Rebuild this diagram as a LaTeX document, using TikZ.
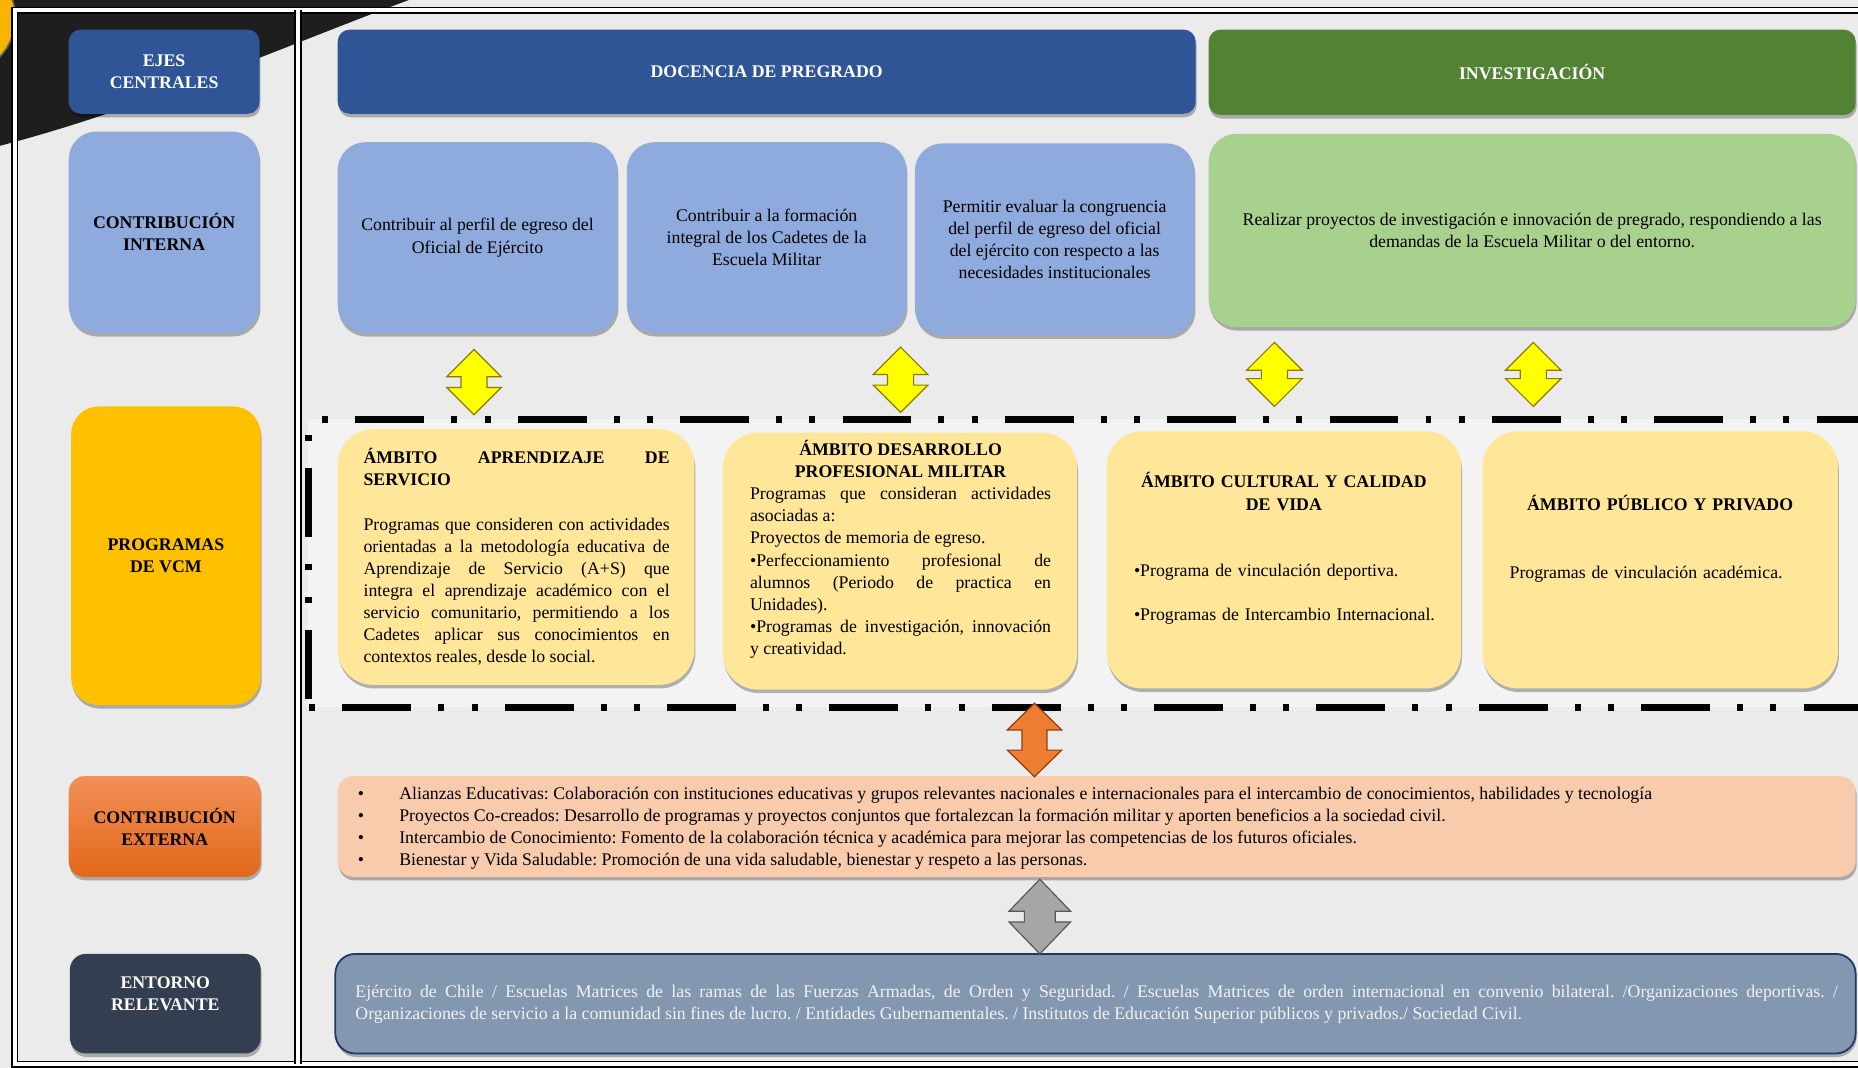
\documentclass[tikz,border=0pt]{standalone}
\usepackage{fontspec}
\setmainfont{Liberation Serif}
\usetikzlibrary{shadows}
\setlength{\parindent}{0pt}
\frenchspacing
\definecolor{cBg}{HTML}{EBEBEB}
\definecolor{cIn}{HTML}{F3F3F3}
\definecolor{cBlk}{HTML}{1E1E1E}
\definecolor{cOrg}{HTML}{F7B500}
\definecolor{cBlue}{HTML}{2F5597}
\definecolor{cLBlue}{HTML}{8FAADC}
\definecolor{cGreen}{HTML}{548235}
\definecolor{cLGreen}{HTML}{A9D18E}
\definecolor{cGold}{HTML}{FFC000}
\definecolor{cLYel}{HTML}{FFE699}
\definecolor{cOrT}{HTML}{F29056}
\definecolor{cOrB}{HTML}{E2681A}
\definecolor{cPeach}{HTML}{F8CBAD}
\definecolor{cSlate}{HTML}{333F50}
\definecolor{cEnv}{HTML}{8497B0}
\definecolor{cEnvB}{HTML}{1F3864}
\definecolor{cEnvT}{HTML}{F2F2F2}
\definecolor{cYArr}{HTML}{FFFF00}
\definecolor{cYArrB}{HTML}{8C7A00}
\definecolor{cOArr}{HTML}{ED7D31}
\definecolor{cOArrB}{HTML}{8A3F10}
\definecolor{cGArr}{HTML}{A6A6A6}
\definecolor{cGArrB}{HTML}{595959}
\tikzset{
  nb/.style={font=\fontsize{9}{11.2}\selectfont, inner sep=0pt, outer sep=0pt},
  rb/.style={rectangle, rounded corners=#1, drop shadow={shadow xshift=0.5pt, shadow yshift=-1.8pt, opacity=0.28, fill=black}},
  wh/.style 2 args={minimum width=#1, minimum height=#2},
  bld/.style={font=\fontsize{9}{11.2}\selectfont\bfseries, align=center},
  frm/.style={draw=black, line width=0.9pt, double=white, double distance=1.8pt},
  dd/.style={line width=3.6pt, dash pattern=on 34.8pt off 13.8pt on 3pt off 13.8pt on 3pt off 13.8pt},
  yarr/.style={fill=cYArr, draw=cYArrB, line width=0.6pt},
  oarr/.style={fill=cOArr, draw=cOArrB, line width=0.6pt},
  garr/.style={fill=cGArr, draw=cGArrB, line width=0.6pt},
}
% name, position, half width, half height, head height, shaft half width, style
\newcommand\dblarr[7]{%
  \coordinate (#1) at (#2);
  \path[#7, shift={(#1)}] (0,-#4) -- (#3,-#4+#5) -- (#6,-#4+#5) -- (#6,#4-#5) -- (#3,#4-#5) -- (0,#4) -- (-#3,#4-#5) -- (-#6,#4-#5) -- (-#6,-#4+#5) -- (-#3,-#4+#5) -- cycle;}
\begin{document}
\begin{tikzpicture}[x=0.6pt, y=-0.6pt, every node/.style={nb}]
\fill[cBg] (0,0) rectangle (1568,901);
\useasboundingbox (0,0) rectangle (1568,901);
\clip (0,0) rectangle (1568,901);
% top-left decoration
\fill[cBlk] (0,0) -- (345,0) .. controls (250,35) and (120,92) .. (0,123) -- cycle;
\fill[cOrg, draw=cBlk!70, line width=0.8pt] (-35,15) circle [radius=48];
% frames
\draw[frm] (12.5,8.5) rectangle (1600,898);
\draw[frm] (251.5,8.5) -- (251.5,898);
% dashed programme area
\fill[cIn] (260,354) rectangle (1575,597);
\draw[dd, dash phase=58.2pt] (260,354) -- (1575,354);
\draw[dd, dash phase=64.8pt] (260,597) -- (1575,597);
\draw[dd, dash phase=57.6pt] (260,354) -- (260,597);
% left column
\node[rb=6pt, fill=cBlue, wh={96.6pt}{42.6pt}, bld, text=white] (ejes) at (138.5,60.5) {EJES\\CENTRALES};
\node[rb=14pt, fill=cLBlue, wh={96.6pt}{102pt}, bld] (cint) at (138.5,196) {CONTRIBUCIÓN\\INTERNA};
\node[rb=14pt, fill=cGold, wh={96pt}{151.2pt}, bld] (prog) at (140,469) {PROGRAMAS\\DE VCM};
\node[rb=8pt, top color=cOrT, bottom color=cOrB, wh={97.2pt}{51pt}, bld] (cext) at (139,697.5) {CONTRIBUCIÓN\\EXTERNA};
\node[rb=8pt, fill=cSlate, wh={96.6pt}{50.4pt}] (ent) at (139.5,847) {};
\node[bld, text=white] (entT) at (139.5,838.5) {ENTORNO\\RELEVANTE};
% headers
\node[rb=6pt, fill=cBlue, wh={434.4pt}{42.6pt}, bld, text=white] (doc) at (647,60.5) {DOCENCIA DE PREGRADO};
\node[rb=6pt, fill=cGreen, wh={327.6pt}{43.2pt}, bld, text=white] (inv) at (1293,61) {INVESTIGACIÓN};
% internal contribution
\node[rb=14pt, fill=cLBlue, wh={141.6pt}{96.6pt}, align=center] (ci1) at (403,200.5) {Contribuir al perfil de egreso del\\Oficial de Ejército};
\node[rb=14pt, fill=cLBlue, wh={141.6pt}{96.6pt}, align=center] (ci2) at (647,200.5) {Contribuir a la formación\\integral de los Cadetes de la\\Escuela Militar};
\node[rb=14pt, fill=cLBlue, wh={141.6pt}{97.2pt}, align=center] (ci3) at (890,202) {Permitir evaluar la congruencia\\del perfil de egreso del oficial\\del ejército con respecto a las\\necesidades institucionales};
\node[rb=14pt, fill=cLGreen, wh={327.6pt}{97.8pt}, align=center] (inv1) at (1293,194.5) {Realizar proyectos de investigación e innovación de pregrado, respondiendo a las\\demandas de la Escuela Militar o del entorno.};
% ambitos
\node[rb=18pt, fill=cLYel, wh={180.6pt}{129.6pt}] (am1) at (435.5,470) {};
\node[text width=155pt, align=justify] (am1t) at (436,470) {\textbf{ÁMBITO APRENDIZAJE DE\linebreak SERVICIO}\par\vspace{11.2pt}Programas que consideren con actividades\linebreak orientadas a la metodología educativa de\linebreak Aprendizaje de Servicio (A+S) que\linebreak integra el aprendizaje académico con el\linebreak servicio comunitario, permitiendo a los\linebreak Cadetes aplicar sus conocimientos en\linebreak contextos reales, desde lo social.};
\node[rb=18pt, fill=cLYel, wh={179.4pt}{130.2pt}] (am2) at (759.5,473.5) {};
\node[text width=152.4pt, align=justify] (am2t) at (760,463.5) {{\centering\bfseries ÁMBITO DESARROLLO\\PROFESIONAL MILITAR\par}Programas que consideran actividades\linebreak asociadas a:\\Proyectos de memoria de egreso.\\•Perfeccionamiento profesional de\linebreak alumnos (Periodo de practica en\linebreak Unidades).\\•Programas de investigación, innovación\linebreak y creatividad.};
\node[rb=18pt, fill=cLYel, wh={179.4pt}{130.2pt}] (am3) at (1083.5,472.5) {};
\node[text width=151.8pt, align=left] (am3t) at (1083.5,463) {{\centering\bfseries ÁMBITO CULTURAL Y CALIDAD\\DE VIDA\par}\vspace{22.4pt}\mbox{•Programa de vinculación deportiva.}\par\vspace{11.2pt}\mbox{•Programas de Intercambio Internacional.}};
\node[rb=18pt, fill=cLYel, wh={180pt}{130.2pt}] (am4) at (1401,472.5) {};
\node[text width=152.4pt, align=left] (am4t) at (1401,454.5) {{\centering\bfseries ÁMBITO PÚBLICO Y PRIVADO\par}\vspace{23pt}Programas de vinculación académica.};
% external contribution
\node[rb=8pt, fill=cPeach, wh={768.6pt}{51pt}] (ext) at (925.5,697.5) {};
\node[anchor=west, align=left] (extT) at (302,699) {\makebox[21pt][l]{•}Alianzas Educativas: Colaboración con instituciones educativas y grupos relevantes nacionales e internacionales para el intercambio de conocimientos, habilidades y tecnología\\\makebox[21pt][l]{•}Proyectos Co-creados: Desarrollo de programas y proyectos conjuntos que fortalezcan la formación militar y aporten beneficios a la sociedad civil.\\\makebox[21pt][l]{•}Intercambio de Conocimiento: Fomento de la colaboración técnica y académica para mejorar las competencias de los futuros oficiales.\\\makebox[21pt][l]{•}Bienestar y Vida Saludable: Promoción de una vida saludable, bienestar y respeto a las personas.};
% environment
\node[rb=10pt, fill=cEnv, draw=cEnvB, line width=0.9pt, wh={769.8pt}{50.4pt}] (env) at (924.5,847) {};
\node[text width=750.6pt, align=justify, text=cEnvT] (envT) at (925.5,847.5) {Ejército de Chile / Escuelas Matrices de las ramas de las Fuerzas Armadas, de Orden y Seguridad. / Escuelas Matrices de orden internacional en convenio bilateral. /Organizaciones deportivas. /\linebreak Organizaciones de servicio a la comunidad sin fines de lucro. / Entidades Gubernamentales. / Institutos de Educación Superior públicos y privados./ Sociedad Civil.};
% block arrows
\dblarr{ya1}{400,322.5}{23}{27.5}{23}{11}{yarr}
\dblarr{ya2}{760,320.5}{23}{27.5}{23}{11}{yarr}
\dblarr{ya3}{1075.5,316}{23.5}{27}{23.5}{11}{yarr}
\dblarr{ya4}{1294,316}{23.5}{27}{23.5}{11}{yarr}
\dblarr{oa}{873,624.5}{23}{31}{22.5}{10.5}{oarr}
\dblarr{ga}{877.5,773.5}{26}{31.5}{27}{13}{garr}
\end{tikzpicture}
\end{document}
